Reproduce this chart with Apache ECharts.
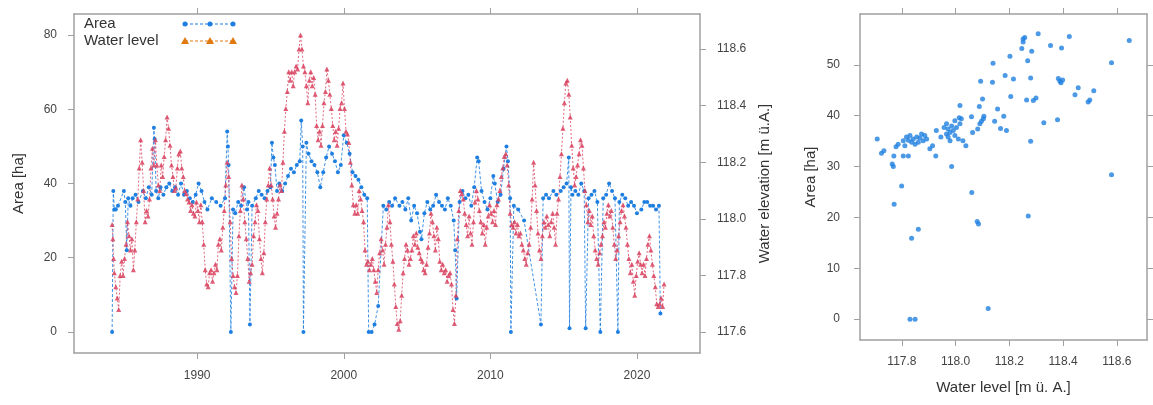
<!DOCTYPE html>
<html><head><meta charset="utf-8">
<script src="https://cdn.jsdelivr.net/npm/echarts@6/dist/echarts.min.js"></script>
<style>html,body{margin:0;padding:0;background:#fff}#c{width:1153px;height:405px}</style>
</head><body><div id="c"></div>
<script>
// ---- data ----
const areaSeries = [
[1984.20,0],[1984.28,38],[1984.35,33],[1984.45,33],[1984.6,34],[1985.0,38],[1985.1,35],[1985.2,22],[1985.3,36],[1985.45,34],[1985.6,36],[1985.8,37],[1986.0,35],[1986.3,38],[1986.5,36],[1986.7,39],[1986.9,37],[1987.05,55],[1987.1,52],[1987.2,38],[1987.35,36],[1987.5,39],[1987.7,37],[1987.9,39],[1988.1,40],[1988.3,38],[1988.5,39],[1988.7,37],[1988.9,40],[1989.1,37],[1989.3,38],[1989.5,36],[1989.7,35],[1989.9,37],[1990.1,40],[1990.3,38],[1990.5,35],[1990.7,33],[1991.0,36],[1991.3,35],[1991.6,34],[1991.9,36],[1992.05,54],[1992.1,50],[1992.15,45],[1992.3,0],[1992.45,33],[1992.6,32],[1992.8,35],[1993.0,34],[1993.2,39],[1993.4,33],[1993.5,35],[1993.6,2],[1993.75,34],[1994.0,36],[1994.2,38],[1994.4,37],[1994.6,36],[1994.8,38],[1995.0,39],[1995.1,51],[1995.2,47],[1995.3,45],[1995.45,38],[1995.6,40],[1995.8,38],[1996.0,40],[1996.2,42],[1996.4,44],[1996.6,43],[1996.8,45],[1997.0,46],[1997.1,57],[1997.2,50],[1997.25,0],[1997.45,51],[1997.6,48],[1997.8,46],[1998.0,45],[1998.2,43],[1998.4,39],[1998.6,43],[1998.8,47],[1999.0,50],[1999.2,48],[1999.4,46],[1999.6,43],[1999.8,45],[2000.0,53],[2000.2,51],[2000.4,48],[2000.6,43],[2000.8,42],[2001.0,41],[2001.2,39],[2001.4,37],[2001.6,36],[2001.7,0],[2001.9,0],[2002.1,2],[2002.35,7],[2002.7,34],[2002.9,33],[2003.1,35],[2003.3,34],[2003.5,36],[2003.8,34],[2004.0,35],[2004.2,33],[2004.4,36],[2004.6,30],[2004.8,34],[2005.0,32],[2005.2,27],[2005.3,25],[2005.5,32],[2005.7,35],[2005.9,33],[2006.1,34],[2006.3,37],[2006.5,35],[2006.7,34],[2006.9,33],[2007.1,36],[2007.3,34],[2007.5,30],[2007.6,22],[2007.7,9],[2007.9,35],[2008.1,38],[2008.3,36],[2008.5,37],[2008.7,34],[2008.9,39],[2009.1,47],[2009.2,46],[2009.4,38],[2009.6,35],[2009.8,33],[2010.0,36],[2010.2,42],[2010.3,40],[2010.5,35],[2010.7,37],[2010.9,44],[2011.1,50],[2011.2,46],[2011.35,36],[2011.4,0],[2011.6,34],[2011.9,33],[2012.3,30],[2013.45,2],[2013.6,36],[2013.8,37],[2014.0,36],[2014.3,38],[2014.5,37],[2014.8,38],[2015.0,39],[2015.2,40],[2015.35,47],[2015.4,1],[2015.5,39],[2015.6,37],[2015.8,38],[2016.0,37],[2016.2,40],[2016.4,38],[2016.5,1],[2016.7,36],[2016.9,37],[2017.1,38],[2017.3,35],[2017.5,0],[2017.7,36],[2017.9,37],[2018.1,40],[2018.3,38],[2018.5,36],[2018.7,0],[2018.8,35],[2019.0,37],[2019.2,36],[2019.4,34],[2019.6,35],[2019.8,34],[2020.0,32],[2020.3,33],[2020.5,35],[2020.7,35],[2020.9,34],[2021.1,34],[2021.3,33],[2021.5,34],[2021.6,5]
];
const waterLevelSeries = [
[1984.20,117.98],[1984.25,117.93],[1984.30,117.86],[1984.35,117.81],[1984.45,117.76],[1984.55,117.72],[1984.65,117.68],[1984.75,117.80],[1984.85,117.85],[1984.95,117.80],
[1985.05,117.86],[1985.15,117.91],[1985.25,117.99],[1985.35,117.94],[1985.45,117.89],[1985.55,117.93],[1985.65,117.82],[1985.75,117.89],[1985.85,117.99],[1985.95,118.07],
[1986.05,118.18],[1986.15,118.28],[1986.25,118.20],[1986.35,118.10],[1986.45,117.99],[1986.55,118.03],[1986.65,118.01],[1986.75,118.07],[1986.85,118.18],[1986.95,118.25],
[1987.05,118.19],[1987.15,118.28],[1987.25,118.19],[1987.35,118.12],[1987.45,118.10],[1987.55,118.19],[1987.65,118.15],[1987.75,118.22],[1987.85,118.28],[1987.95,118.36],
[1988.05,118.32],[1988.15,118.26],[1988.25,118.19],[1988.35,118.15],[1988.45,118.10],[1988.55,118.11],[1988.65,118.18],[1988.75,118.23],[1988.85,118.24],[1988.95,118.18],
[1989.05,118.15],[1989.15,118.10],[1989.25,118.09],[1989.35,118.07],[1989.45,118.06],[1989.55,118.03],[1989.65,118.05],[1989.75,118.02],[1989.85,118.01],[1989.95,118.06],
[1990.05,118.03],[1990.15,117.99],[1990.25,118.05],[1990.35,117.99],[1990.45,117.91],[1990.55,117.82],[1990.65,117.77],[1990.75,117.76],[1990.85,117.81],[1990.95,117.82],
[1991.05,117.78],[1991.15,117.81],[1991.25,117.84],[1991.35,117.82],[1991.45,117.91],[1991.55,117.93],[1991.65,117.89],[1991.75,117.97],[1991.85,118.03],[1991.95,118.12],
[1992.05,118.20],[1992.15,118.15],[1992.25,117.99],[1992.35,117.86],[1992.45,117.80],[1992.55,117.76],[1992.65,117.74],[1992.75,117.80],[1992.85,117.94],[1992.95,118.03],
[1993.05,118.12],[1993.15,118.07],[1993.25,117.99],[1993.35,117.93],[1993.45,117.86],[1993.55,117.78],[1993.65,117.81],[1993.75,117.84],[1993.85,117.94],[1993.95,117.99],
[1994.05,118.05],[1994.15,118.03],[1994.25,117.93],[1994.35,117.86],[1994.45,117.81],[1994.55,117.88],[1994.65,117.99],[1994.75,118.07],[1994.85,118.12],[1994.95,118.18],
[1995.05,118.12],[1995.15,118.07],[1995.25,118.01],[1995.35,117.97],[1995.45,118.02],[1995.55,118.07],[1995.65,118.12],[1995.75,118.10],[1995.85,118.20],[1995.95,118.31],
[1996.05,118.39],[1996.15,118.45],[1996.25,118.52],[1996.35,118.49],[1996.45,118.52],[1996.55,118.47],[1996.65,118.52],[1996.75,118.54],[1996.85,118.53],[1996.95,118.60],
[1997.05,118.65],[1997.15,118.60],[1997.25,118.54],[1997.35,118.52],[1997.45,118.47],[1997.55,118.41],[1997.65,118.49],[1997.75,118.52],[1997.85,118.47],[1997.95,118.50],
[1998.05,118.44],[1998.15,118.33],[1998.25,118.28],[1998.35,118.31],[1998.45,118.26],[1998.55,118.33],[1998.65,118.41],[1998.75,118.45],[1998.85,118.53],[1998.95,118.49],
[1999.05,118.44],[1999.15,118.39],[1999.25,118.33],[1999.35,118.28],[1999.45,118.31],[1999.55,118.26],[1999.65,118.32],[1999.75,118.39],[1999.85,118.41],[1999.95,118.48],
[2000.05,118.39],[2000.15,118.31],[2000.25,118.30],[2000.35,118.27],[2000.45,118.20],[2000.55,118.12],[2000.65,118.05],[2000.75,118.02],[2000.85,118.05],[2000.95,118.02],
[2001.05,118.10],[2001.15,118.07],[2001.25,118.03],[2001.35,117.99],[2001.45,117.89],[2001.55,117.84],[2001.65,117.85],[2001.75,117.82],[2001.85,117.84],[2001.95,117.86],
[2002.05,117.82],[2002.15,117.78],[2002.25,117.74],[2002.35,117.82],[2002.45,117.88],[2002.55,117.93],[2002.65,117.89],[2002.75,117.84],[2002.85,117.91],[2002.95,117.97],
[2003.05,118.05],[2003.15,117.99],[2003.25,117.91],[2003.35,117.85],[2003.45,117.77],[2003.55,117.69],[2003.65,117.63],[2003.75,117.61],[2003.85,117.64],[2003.95,117.73],
[2004.05,117.81],[2004.15,117.86],[2004.25,117.91],[2004.35,117.89],[2004.45,117.84],[2004.55,117.86],[2004.65,117.89],[2004.75,117.94],[2004.85,117.91],[2004.95,117.95],
[2005.05,117.90],[2005.15,117.88],[2005.25,117.86],[2005.35,117.85],[2005.45,117.82],[2005.55,117.81],[2005.65,117.84],[2005.75,117.90],[2005.85,117.95],[2005.95,118.02],
[2006.05,117.99],[2006.15,117.94],[2006.25,117.89],[2006.35,117.97],[2006.45,117.93],[2006.55,117.85],[2006.65,117.82],[2006.75,117.84],[2006.85,117.81],[2006.95,117.82],
[2007.05,117.78],[2007.15,117.80],[2007.25,117.81],[2007.35,117.77],[2007.45,117.68],[2007.55,117.63],[2007.65,117.73],[2007.75,117.93],[2007.85,118.03],[2007.95,118.10],
[2008.05,118.09],[2008.15,118.07],[2008.25,118.02],[2008.35,117.98],[2008.45,117.94],[2008.55,118.01],[2008.65,117.95],[2008.75,117.91],[2008.85,117.99],[2008.95,118.06],
[2009.05,118.10],[2009.15,118.07],[2009.25,118.03],[2009.35,117.99],[2009.45,117.95],[2009.55,117.98],[2009.65,117.91],[2009.75,117.97],[2009.85,118.01],[2009.95,118.05],
[2010.05,118.02],[2010.15,117.99],[2010.25,118.03],[2010.35,117.98],[2010.45,118.05],[2010.55,118.07],[2010.65,118.10],[2010.75,118.15],[2010.85,118.18],[2010.95,118.22],
[2011.05,118.23],[2011.15,118.19],[2011.25,118.12],[2011.35,118.02],[2011.45,117.98],[2011.55,117.97],[2011.65,117.99],[2011.75,117.95],[2011.85,117.98],[2011.95,117.94],
[2012.05,117.95],[2012.15,117.91],[2012.25,117.89],[2012.35,117.86],[2012.45,117.84],[2012.55,117.88],[2012.65,117.91],[2012.75,117.97],[2012.85,118.07],[2012.95,118.20],
[2013.05,118.12],[2013.15,118.03],[2013.25,117.95],[2013.35,117.89],[2013.45,117.86],[2013.55,117.94],[2013.65,117.99],[2013.75,117.97],[2013.85,118.01],[2013.95,117.98],
[2014.05,117.94],[2014.15,117.99],[2014.25,118.02],[2014.35,117.97],[2014.45,117.91],[2014.55,118.02],[2014.65,118.07],[2014.75,118.15],[2014.85,118.23],[2014.95,118.32],
[2015.05,118.41],[2015.15,118.48],[2015.25,118.49],[2015.35,118.44],[2015.45,118.36],[2015.55,118.26],[2015.65,118.18],[2015.75,118.12],[2015.85,118.15],[2015.95,118.19],
[2016.05,118.23],[2016.15,118.28],[2016.25,118.26],[2016.35,118.18],[2016.45,118.10],[2016.55,118.05],[2016.65,117.99],[2016.75,118.03],[2016.85,117.98],[2016.95,118.01],
[2017.05,117.94],[2017.15,117.89],[2017.25,117.86],[2017.35,117.84],[2017.45,117.88],[2017.55,117.91],[2017.65,117.94],[2017.75,117.99],[2017.85,117.97],[2017.95,118.02],
[2018.05,118.05],[2018.15,118.01],[2018.25,118.03],[2018.35,117.97],[2018.45,117.91],[2018.55,117.86],[2018.65,117.89],[2018.75,117.94],[2018.85,117.99],[2018.95,118.03],
[2019.05,118.05],[2019.15,118.01],[2019.25,117.97],[2019.35,117.91],[2019.45,117.86],[2019.55,117.81],[2019.65,117.84],[2019.75,117.78],[2019.85,117.73],[2019.95,117.80],
[2020.05,117.85],[2020.15,117.88],[2020.25,117.84],[2020.35,117.81],[2020.45,117.84],[2020.55,117.80],[2020.65,117.86],[2020.75,117.91],[2020.85,117.94],[2020.95,117.89],
[2021.05,117.84],[2021.15,117.80],[2021.25,117.76],[2021.35,117.70],[2021.45,117.69],[2021.55,117.70],[2021.65,117.72],[2021.75,117.69],[2021.85,117.77]
];
const scatterPoints = [
[117.708,35.4],[117.724,32.6],[117.733,33.1],[117.764,30.5],[117.768,30.0],[117.770,32.1],[117.778,33.9],[117.786,34.4],[117.799,26.2],[117.771,22.6],[117.805,32.1],[117.824,32.1],
[117.805,35.1],[117.817,35.8],[117.830,36.1],[117.842,35.4],[117.855,35.8],[117.867,35.6],[117.879,35.1],[117.885,36.1],[117.849,34.4],[117.836,34.8],[117.861,34.8],[117.892,35.4],[117.873,36.4],[117.824,35.2],[117.811,34.1],
[117.836,15.9],[117.861,17.7],[117.830,0],[117.849,0],
[117.904,33.5],[117.914,34.1],[117.926,32.1],[117.928,37.1],[117.945,35.8],[117.957,37.7],[117.966,36.4],
[117.966,38.4],[117.972,37.4],[117.979,36.7],[117.985,38.0],[117.991,37.1],[117.997,36.1],[118.003,37.7],[118.010,35.4],[118.016,38.4],[117.979,35.1],[117.997,39.0],[117.972,35.8],
[118.016,42.0],[118.013,39.6],[118.021,39.4],[118.027,35.1],[118.038,34.1],[117.985,30.0],[118.059,39.8],[118.060,24.9],[118.080,19.2],[118.085,18.7],[118.063,36.7],[118.082,37.4],[118.090,38.4],[118.096,38.9],[118.103,39.4],[118.105,39.9],[118.088,41.8],[118.100,43.3],[118.093,46.8],[118.137,46.6],[118.139,50.3],[118.145,38.9],[118.156,41.3],[118.167,37.5],[118.179,39.9],[118.189,37.1],[118.184,47.9],[118.202,51.7],[118.205,43.8],[118.215,47.2],[118.121,2.1],
[118.251,55.1],[118.251,54.5],[118.257,55.4],[118.246,53.2],[118.270,20.3],[118.264,43.1],[118.283,52.7],[118.268,50.8],[118.279,47.4],[118.279,35.0],[118.289,43.0],[118.299,43.5],[118.307,56.1],[118.328,38.6],[118.353,53.8],[118.379,39.2],[118.382,47.3],[118.388,46.8],[118.398,47.0],[118.392,46.5],[118.394,53.3],[118.423,55.6],[118.444,44.1],[118.456,45.5],[118.493,42.7],[118.499,43.1],[118.514,44.9],[118.580,50.4],[118.580,28.4],[118.646,54.8]
];
const yearTicks = [1990, 2000, 2010, 2020];
const areaTicks = [0, 20, 40, 60, 80];
const levelTicks = [117.6, 117.8, 118.0, 118.2, 118.4, 118.6];
const scatterLevelTicks = [117.8, 118.0, 118.2, 118.4, 118.6];
const scatterAreaTicks = [0, 10, 20, 30, 40, 50];

// ---- styles ----
const FONT = '"Liberation Sans", Arial, sans-serif';
const FRAME = '#a0a0a0';
const TXT = '#444';
const BLUE = '#1f7fe0';
const RED = '#d8425f';
const ORANGE = '#e07a10';

function ax(o) {
  const ticks = o.ticks;
  const base = {
    type: 'value', gridIndex: o.grid, position: o.pos, min: o.min, max: o.max,
    scale: true,
    axisLine: { show: true, onZero: false, lineStyle: { color: FRAME, width: 1.5 } },
    splitLine: { show: false },
    axisTick: { show: true, inside: false, length: 6, customValues: ticks, lineStyle: { color: FRAME, width: 1 } },
    axisLabel: o.labels ? { show: true, customValues: ticks, margin: o.margin || 16, color: TXT, fontSize: 12, fontFamily: FONT,
      formatter: o.fmt || (v => String(v)) } : { show: false }
  };
  if (o.name) {
    Object.assign(base, { name: o.name, nameLocation: 'middle', nameGap: o.nameGap, nameRotate: o.nameRotate,
      nameTextStyle: { color: '#333', fontSize: 15, fontFamily: FONT } });
  }
  return base;
}

const chart = echarts.init(document.getElementById('c'), null, { renderer: 'canvas' });
chart.setOption({
  animation: false,
  backgroundColor: '#fff',
  grid: [
    { left: 74, top: 14, width: 626, height: 339, containLabel: false },
    { left: 860, top: 14, width: 287, height: 326, containLabel: false }
  ],
  xAxis: [
    ax({ grid: 0, pos: 'bottom', min: 1981.6, max: 2024.3, ticks: yearTicks, labels: true, margin: 17 }),
    ax({ grid: 0, pos: 'top', min: 1981.6, max: 2024.3, ticks: yearTicks, labels: false }),
    ax({ grid: 1, pos: 'bottom', min: 117.644, max: 118.712, ticks: scatterLevelTicks, labels: true, margin: 16,
         fmt: v => v.toFixed(1), name: 'Water level [m ü. A.]', nameGap: 40 }),
    ax({ grid: 1, pos: 'top', min: 117.644, max: 118.712, ticks: scatterLevelTicks, labels: false })
  ],
  yAxis: [
    ax({ grid: 0, pos: 'left', min: -5.66, max: 85.66, ticks: areaTicks, labels: true, margin: 17,
         name: 'Area [ha]', nameGap: 48, nameRotate: 90 }),
    ax({ grid: 0, pos: 'right', min: 117.526, max: 118.724, ticks: levelTicks, labels: true, margin: 17,
         fmt: v => v.toFixed(1), name: 'Water elevation [m ü.A.]', nameGap: 56, nameRotate: 90 }),
    ax({ grid: 1, pos: 'left', min: -4.1, max: 60, ticks: scatterAreaTicks, labels: true, margin: 20,
         name: 'Area [ha]', nameGap: 42, nameRotate: 90 }),
    ax({ grid: 1, pos: 'right', min: -4.1, max: 60, ticks: scatterAreaTicks, labels: false })
  ],
  series: [
    { type: 'line', name: 'Area', xAxisIndex: 0, yAxisIndex: 0, data: areaSeries,
      symbol: 'circle', symbolSize: 4, showSymbol: true,
      itemStyle: { color: BLUE }, lineStyle: { color: BLUE, width: 1, type: [3, 2], opacity: 0.85 } },
    { type: 'line', name: 'Water level', xAxisIndex: 0, yAxisIndex: 1, data: waterLevelSeries,
      symbol: 'triangle', symbolSize: 5, showSymbol: true,
      itemStyle: { color: RED, opacity: 0.85 }, lineStyle: { color: RED, width: 1, type: [2, 2], opacity: 0.8 } },
    { type: 'scatter', name: 'Scatter', xAxisIndex: 2, yAxisIndex: 2, data: scatterPoints,
      symbol: 'circle', symbolSize: 5, itemStyle: { color: BLUE } }
  ],
  graphic: [
    { type: 'text', x: 84, y: 24, style: { text: 'Area', fill: '#333', font: '15px ' + FONT, verticalAlign: 'middle' } },
    { type: 'text', x: 84, y: 41, style: { text: 'Water level', fill: '#333', font: '15px ' + FONT, verticalAlign: 'middle' } },
    { type: 'line', shape: { x1: 185, y1: 24, x2: 233, y2: 24 }, style: { stroke: BLUE, lineWidth: 1, lineDash: [3, 2] } },
    { type: 'circle', shape: { cx: 185, cy: 24, r: 2.5 }, style: { fill: BLUE } },
    { type: 'circle', shape: { cx: 210, cy: 24, r: 2.5 }, style: { fill: BLUE } },
    { type: 'circle', shape: { cx: 233, cy: 24, r: 2.5 }, style: { fill: BLUE } },
    { type: 'line', shape: { x1: 185, y1: 41, x2: 233, y2: 41 }, style: { stroke: ORANGE, lineWidth: 1, lineDash: [3, 2] } },
    { type: 'polygon', shape: { points: [[185, 37], [181, 44], [189, 44]] }, style: { fill: ORANGE } },
    { type: 'polygon', shape: { points: [[210, 37], [206, 44], [214, 44]] }, style: { fill: ORANGE } },
    { type: 'polygon', shape: { points: [[233, 37], [229, 44], [237, 44]] }, style: { fill: ORANGE } }
  ]
});
</script>
</body></html>
